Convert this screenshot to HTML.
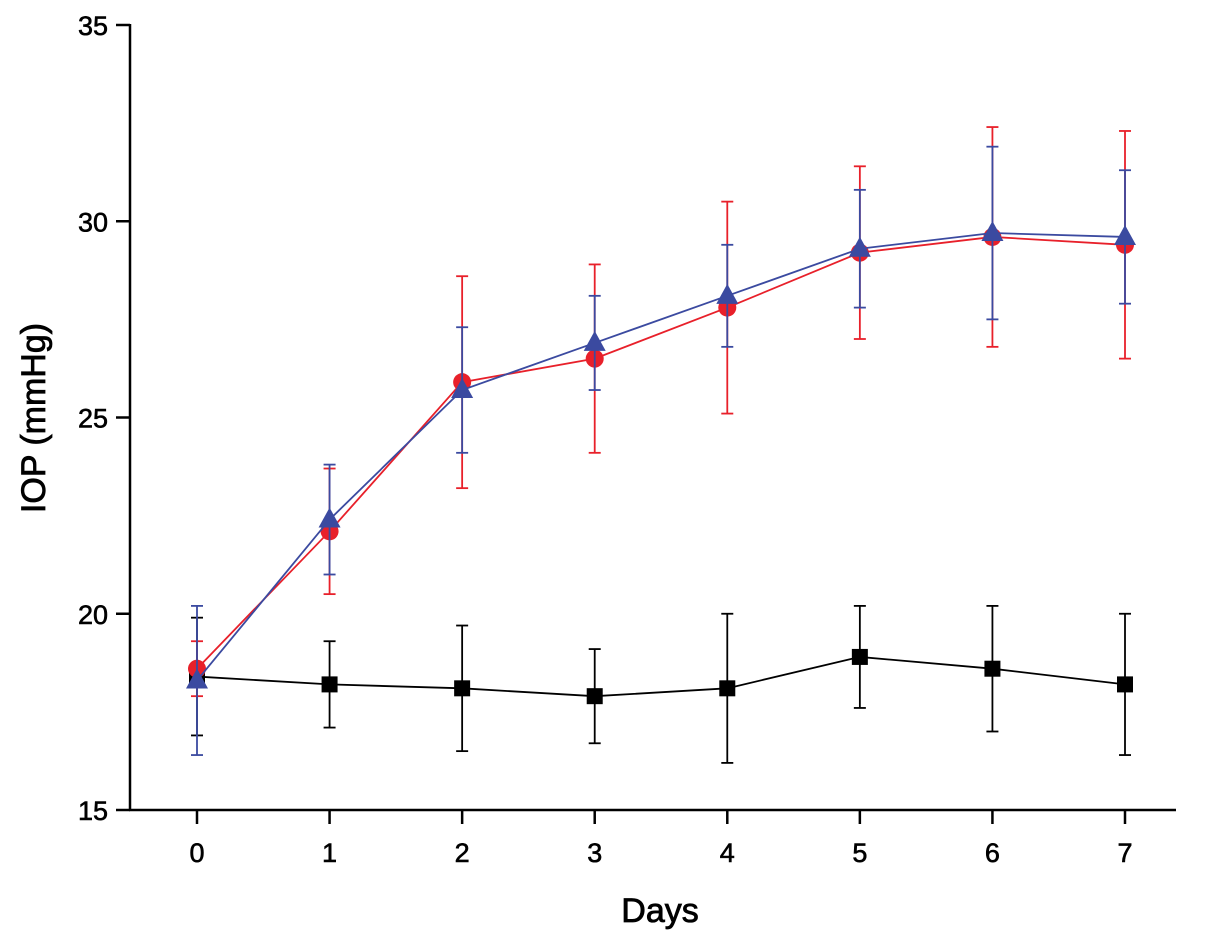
<!DOCTYPE html>
<html><head><meta charset="utf-8"><style>body{margin:0;background:#fff}svg{display:block}</style></head>
<body>
<svg id="chart" width="1205" height="941" xmlns="http://www.w3.org/2000/svg" font-family="Liberation Sans, Arial, sans-serif"></svg>
<script>
const days=[0,1,2,3,4,5,6,7];
const yTicks=[15,20,25,30,35];
const blackMean=[18.4,18.2,18.1,17.9,18.1,18.9,18.6,18.2];
const blackHi=[19.9,19.3,19.7,19.1,20.0,20.2,20.2,20.0];
const blackLo=[16.9,17.1,16.5,16.7,16.2,17.6,17.0,16.4];
const redMean=[18.6,22.1,25.9,26.5,27.8,29.2,29.6,29.4];
const redHi=[19.3,23.7,28.6,28.9,30.5,31.4,32.4,32.3];
const redLo=[17.9,20.5,23.2,24.1,25.1,27.0,26.8,26.5];
const blueMean=[18.3,22.4,25.7,26.9,28.1,29.3,29.7,29.6];
const blueHi=[20.2,23.8,27.3,28.1,29.4,30.8,31.9,31.3];
const blueLo=[16.4,21.0,24.1,25.7,26.8,27.8,27.5,27.9];

const svg=document.getElementById('chart');
const NS='http://www.w3.org/2000/svg';
const X=d=>197+d*(1125-197)/7;
const Y=v=>810-(v-15)*(810-25)/20;
function mk(tag,attrs,name,parent){const e=document.createElementNS(NS,tag);for(const k in attrs)e.setAttribute(k,attrs[k]);


(parent||svg).appendChild(e);return e;}
mk('line',{x1:130,y1:24,x2:130,y2:811,stroke:'#000','stroke-width':2.5},'y-axis');
mk('line',{x1:129,y1:810,x2:1176,y2:810,stroke:'#000','stroke-width':2.5},'x-axis');
yTicks.forEach(t=>{
  mk('line',{x1:116,y1:Y(t),x2:130,y2:Y(t),stroke:'#000','stroke-width':2.5},'y-tick');
  const tx=mk('text',{x:108,y:Y(t)+10,'text-anchor':'end','font-size':27,stroke:'#000','stroke-width':0.6},'y-tick-label');tx.textContent=t;
});
days.forEach(d=>{
  mk('line',{x1:X(d),y1:810,x2:X(d),y2:824,stroke:'#000','stroke-width':2.5},'x-tick');
  const tx=mk('text',{x:X(d),y:862,'text-anchor':'middle','font-size':27,stroke:'#000','stroke-width':0.6},'x-tick-label');tx.textContent=d;
});
const xt=mk('text',{x:660,y:922,'text-anchor':'middle','font-size':34,stroke:'#000','stroke-width':0.8},'x-axis-title');xt.textContent='Days';
const yt=mk('text',{x:0,y:0,'text-anchor':'middle','font-size':34,stroke:'#000','stroke-width':0.8,transform:'translate(45,418) rotate(-90)'},'y-axis-title');yt.textContent='IOP (mmHg)';

function series(mean,hi,lo,color,shape,name){
  const g=mk('g',{},name+'-series');
  days.forEach((d,i)=>{
    const x=X(d);
    mk('line',{x1:x,y1:Y(hi[i]),x2:x,y2:Y(lo[i]),stroke:color,'stroke-width':1.8},name+'-error-bar',g);
    mk('line',{x1:x-6,y1:Y(hi[i]),x2:x+6,y2:Y(hi[i]),stroke:color,'stroke-width':1.8},name+'-error-cap',g);
    mk('line',{x1:x-6,y1:Y(lo[i]),x2:x+6,y2:Y(lo[i]),stroke:color,'stroke-width':1.8},name+'-error-cap',g);
  });
  mk('polyline',{points:days.map((d,i)=>X(d)+','+Y(mean[i])).join(' '),fill:'none',stroke:color,'stroke-width':1.8},name+'-line',g);
  days.forEach((d,i)=>{
    const x=X(d),y=Y(mean[i]);
    if(shape==='square')mk('rect',{x:x-8,y:y-8,width:16,height:16,fill:color},name+'-marker',g);
    else if(shape==='circle')mk('circle',{cx:x,cy:y,r:9,fill:color},name+'-marker',g);
    else mk('polygon',{points:`${x},${y-12} ${x-11},${y+8} ${x+11},${y+8}`,fill:color},name+'-marker',g);
  });
}
series(blackMean,blackHi,blackLo,'#000','square','control');
series(redMean,redHi,redLo,'#e8202a','circle','red');
series(blueMean,blueHi,blueLo,'#3b4aa0','triangle','blue');
</script>
</body></html>
